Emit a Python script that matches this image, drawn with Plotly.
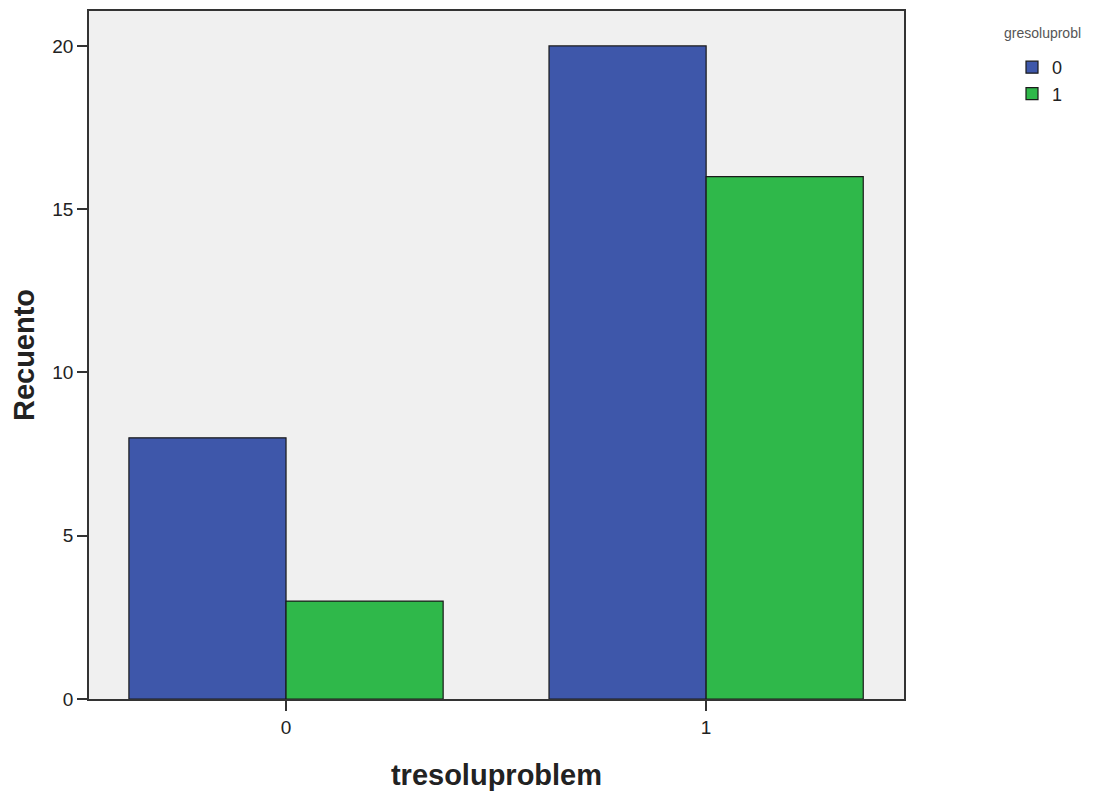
import plotly.graph_objects as go

categories = ["0", "1"]
series_names = ["0", "1"]
values_0 = [8, 20]
values_1 = [3, 16]
colors = ["#3e57aa", "#2fb84a"]
legend_title = "gresoluprobl"

fig = go.Figure()
for name, vals, col in zip(series_names, [values_0, values_1], colors):
    fig.add_trace(go.Bar(
        x=[0, 1], y=vals, name=name,
        marker=dict(color=col, line=dict(color="#1a1a1a", width=1.2)),
    ))

# page body adds 8px offset; figure coords = page coords - 8
W, H = 1088, 789
L, T, R, B = 81, 3, 192, 98
pw = W - L - R
ph = H - T - B

def px_x(px_page):
    return (px_page - 8 - L) / pw

def px_y(py_page):
    return (H - B - (py_page - 8)) / ph

fig.update_layout(
    width=W, height=H,
    margin=dict(l=L, r=R, t=T, b=B, autoexpand=False),
    paper_bgcolor="white", plot_bgcolor="#f0f0f0",
    barmode="group", bargap=0.252, bargroupgap=0,
    font=dict(family="Liberation Sans, Arial", color="#222"),
    showlegend=True,
    legend=dict(
        x=px_x(1012), y=px_y(49), xanchor="left", yanchor="top",
        font=dict(size=18, color="#222"),
        itemwidth=30, tracegroupgap=0, bgcolor="rgba(0,0,0,0)",
    ),
    annotations=[dict(
        text=legend_title, x=px_x(1002), y=px_y(33),
        xref="paper", yref="paper", xanchor="left", yanchor="middle",
        showarrow=False, font=dict(size=14, color="#555"),
    )],
    xaxis=dict(
        range=[-0.469, 1.471], tickvals=[0, 1], ticktext=categories,
        showgrid=False, zeroline=False,
        showline=True, linecolor="#333", linewidth=1.5, mirror=True,
        ticks="outside", ticklen=10, tickcolor="#333", tickwidth=1.5,
        tickfont=dict(size=19),
        title=dict(text="<b>tresoluproblem</b>", font=dict(size=29), standoff=28),
    ),
    yaxis=dict(
        range=[0, 21.07], tickvals=[0, 5, 10, 15, 20],
        showgrid=False, zeroline=False,
        showline=True, linecolor="#333", linewidth=1.5, mirror=True,
        ticks="outside", ticklen=10, tickcolor="#333", tickwidth=1.5,
        tickfont=dict(size=19),
        title=dict(text="<b>Recuento</b>", font=dict(size=29), standoff=10),
    ),
)

fig.write_html("out.html")
